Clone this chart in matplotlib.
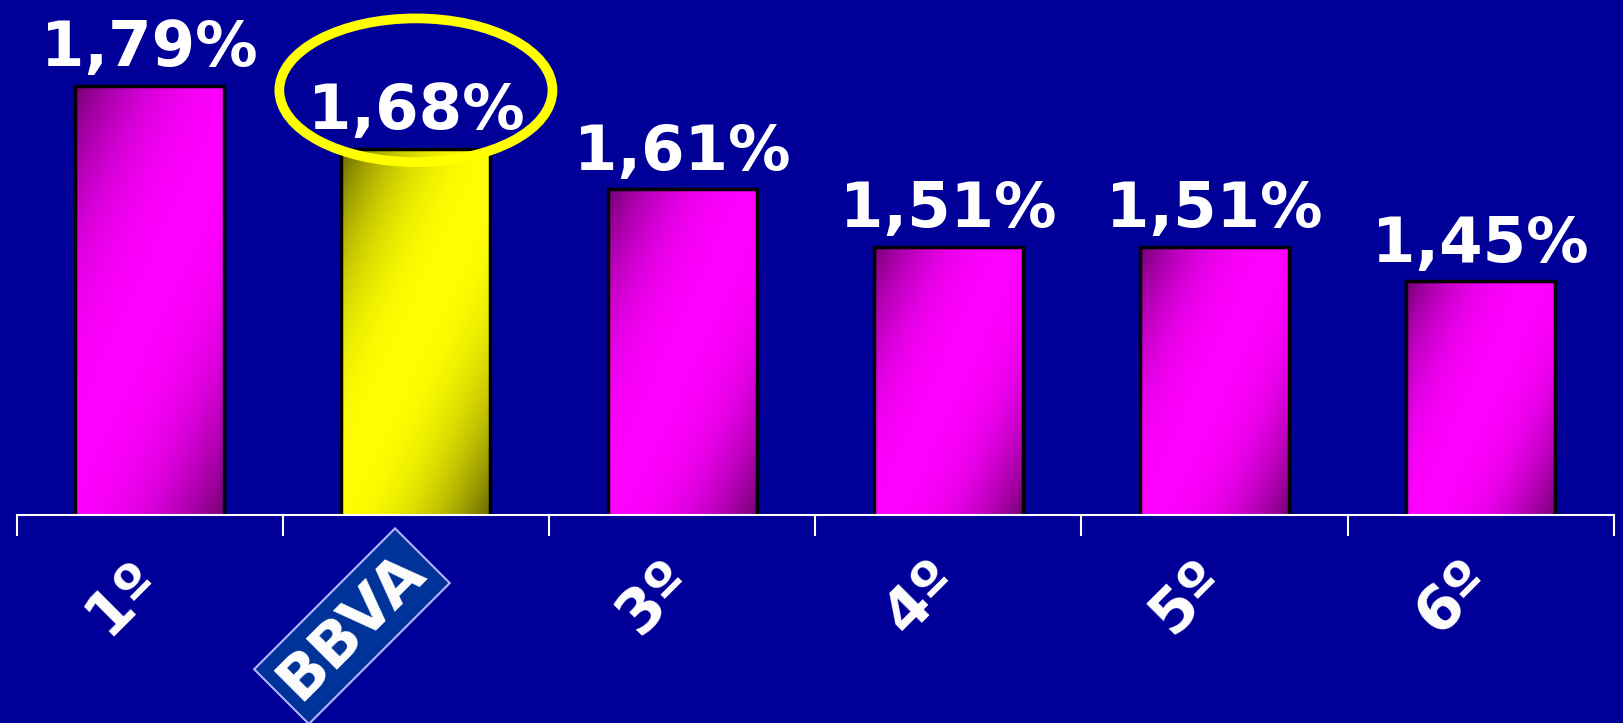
import numpy as np
import matplotlib.pyplot as plt
from matplotlib.patches import Ellipse
from matplotlib.transforms import offset_copy, blended_transform_factory

categories = ["1º", "BBVA", "3º", "4º", "5º", "6º"]
values = [1.79, 1.68, 1.61, 1.51, 1.51, 1.45]
value_labels = ["1,79%", "1,68%", "1,61%", "1,51%", "1,51%", "1,45%"]
highlight = "BBVA"

BG = "#000099"
Y_MIN, Y_MAX = 1.043, 1.939


def gradient_image(w_px, h_px, bright, dark, angle=25.0, power=2.2):
    # linear shading across the bar in pixel space:
    # dark top-left corner -> bright middle -> dark bottom-right corner
    nx, ny = max(int(w_px), 2), max(int(h_px), 2)
    xs = np.arange(nx)[None, :]
    ys = np.arange(ny)[:, None]
    a = np.radians(angle)
    d = xs * np.cos(a) + ys * np.sin(a)
    t = d / d.max()
    b = 1 - np.abs(2 * t - 1) ** power
    bright = np.array(bright)
    dark = np.array(dark)
    return dark + (bright - dark) * b[:, :, None]


fig = plt.figure(figsize=(16.24, 7.23), dpi=100, facecolor=BG)
ax = fig.add_axes([0.0102, 0.2877, 0.9836, 0.7123])
ax.set_facecolor(BG)
ax.set_xlim(-0.5, len(categories) - 0.5)
ax.set_ylim(Y_MIN, Y_MAX)

x = np.arange(len(categories))
bars = ax.bar(x, values, width=0.56, color="none", edgecolor="black",
              linewidth=2.5, zorder=3)

for rect, cat, v in zip(bars, categories, values):
    x0 = rect.get_x()
    x1 = x0 + rect.get_width()
    (px0, py0), (px1, py1) = ax.transData.transform([(x0, Y_MIN), (x1, v)])
    if cat == highlight:
        img = gradient_image(px1 - px0, py1 - py0, (1, 1, 0), (0.40, 0.40, 0))
    else:
        img = gradient_image(px1 - px0, py1 - py0, (1, 0, 1), (0.45, 0, 0.45))
    ax.imshow(img, extent=[x0, x1, Y_MIN, v], aspect="auto", origin="upper",
              zorder=2, interpolation="bilinear")

for i, (v, lab) in enumerate(zip(values, value_labels)):
    ax.annotate(lab, xy=(i, v), xytext=(0, 14), textcoords="offset points",
                ha="center", va="baseline", fontsize=45, fontweight="bold",
                color="white", zorder=6, annotation_clip=False)

# category labels, rotated under the axis
base = blended_transform_factory(ax.transData, ax.transAxes)
for i, cat in enumerate(categories):
    if cat == highlight:
        tr = offset_copy(base, fig=fig, x=0, y=-34, units="points")
        ax.text(i, 0, cat, transform=tr, rotation=45, rotation_mode="anchor",
                ha="right", va="center", fontsize=44, fontweight="bold",
                color="white", clip_on=False,
                bbox=dict(boxstyle="square,pad=0.15", facecolor="#003399",
                          edgecolor="#b4b4ff", linewidth=1.5))
    else:
        tr = offset_copy(base, fig=fig, x=0, y=-40, units="points")
        ax.text(i, 0, cat, transform=tr, rotation=45, rotation_mode="anchor",
                ha="right", va="center", fontsize=44, fontweight="bold",
                color="white", clip_on=False)

# yellow ring around the BBVA value
hi = categories.index(highlight)
ax.add_patch(Ellipse((hi, 1.782), width=1.026, height=0.250, fill=False,
                     edgecolor="#ffff00", linewidth=7, zorder=5, clip_on=False))

ax.set_xlim(-0.5, len(categories) - 0.5)
ax.set_ylim(Y_MIN, Y_MAX)

for side in ["top", "right", "left"]:
    ax.spines[side].set_visible(False)
ax.spines["bottom"].set_color("white")
ax.spines["bottom"].set_linewidth(1.5)
ax.spines["bottom"].set_zorder(4)

ax.set_yticks([])
ax.set_xticks(x)
ax.set_xticklabels([])
ax.tick_params(axis="x", which="major", length=0)
ax.set_xticks(np.arange(-0.5, len(categories), 1), minor=True)
ax.tick_params(axis="x", which="minor", length=15, width=1.5, color="white",
               direction="out")

fig.savefig("out.png", dpi=100, facecolor=BG)
